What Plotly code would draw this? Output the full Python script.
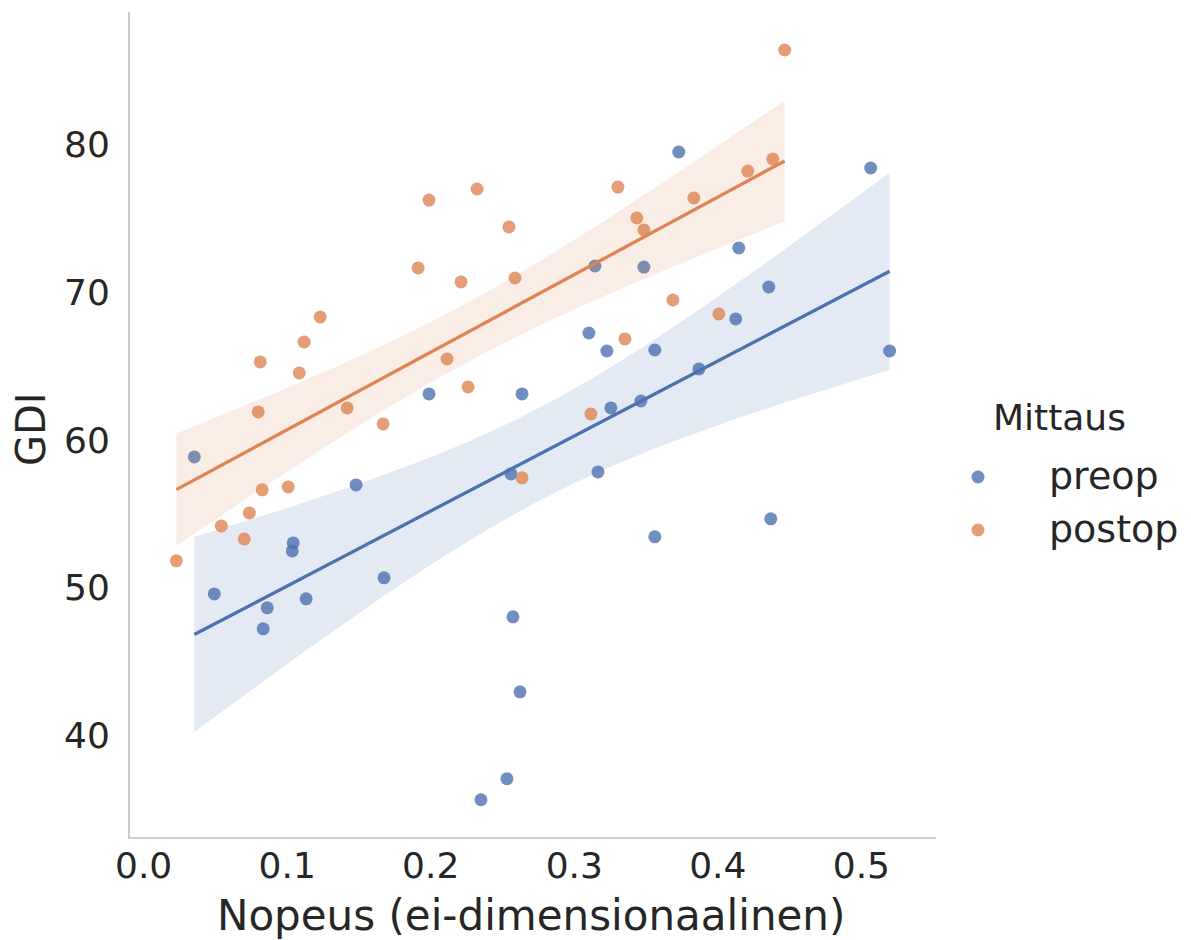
import numpy as np
import plotly.graph_objects as go

# ---- data ----
hue_levels = ["preop", "postop"]

preop_x = [0.0353, 0.0492, 0.0833, 0.0861, 0.1035, 0.1042, 0.1132, 0.1480, 0.1675,
           0.1988, 0.2350, 0.2531, 0.2559, 0.2573, 0.2622, 0.2636, 0.3102, 0.3144,
           0.3165, 0.3227, 0.3255, 0.3464, 0.3485, 0.3561, 0.3561, 0.3728, 0.3868,
           0.4125, 0.4146, 0.4355, 0.4369, 0.5065, 0.5197]
preop_y = [58.86, 49.59, 47.23, 48.65, 52.50, 53.04, 49.26, 56.96, 50.68,
           63.12, 35.67, 37.09, 57.71, 48.04, 42.97, 63.12, 67.24, 71.77,
           57.84, 66.02, 62.17, 62.64, 71.70, 66.09, 53.45, 79.48, 64.81,
           68.19, 72.99, 70.35, 54.67, 78.40, 66.02]

postop_x = [0.0228, 0.0541, 0.0701, 0.0736, 0.0798, 0.0812, 0.0826, 0.1007, 0.1084,
            0.1118, 0.1230, 0.1418, 0.1668, 0.1912, 0.1988, 0.2114, 0.2211, 0.2260,
            0.2323, 0.2545, 0.2587, 0.2636, 0.3116, 0.3304, 0.3353, 0.3436, 0.3485,
            0.3687, 0.3833, 0.4007, 0.4209, 0.4383, 0.4466]
postop_y = [51.83, 54.19, 53.31, 55.07, 61.90, 65.28, 56.63, 56.83, 64.54,
            66.63, 68.32, 62.17, 61.09, 71.64, 76.23, 65.48, 70.69, 63.59,
            76.98, 74.41, 70.96, 57.44, 61.76, 77.11, 66.84, 75.02, 74.21,
            69.47, 76.37, 68.53, 78.19, 79.01, 86.38]

x_ticks = [0.0, 0.1, 0.2, 0.3, 0.4, 0.5]
x_tick_labels = ["0.0", "0.1", "0.2", "0.3", "0.4", "0.5"]
y_ticks = [40, 50, 60, 70, 80]
y_tick_labels = ["40", "50", "60", "70", "80"]

x_title = "Nopeus (ei-dimensionaalinen)"
y_title = "GDI"
legend_title = "Mittaus"

series = {"preop": (preop_x, preop_y), "postop": (postop_x, postop_y)}

# ---- style ----
line_colors = {"preop": "rgb(76,114,176)", "postop": "rgb(221,132,82)"}
band_colors = {"preop": "rgba(76,114,176,0.15)", "postop": "rgba(221,132,82,0.15)"}
TEXT = "#262626"
FONT = "DejaVu Sans"
T975 = 2.04  # Student t quantile, 95% CI, ~31 dof

W, H = 1191, 940
L, R, T, B = 130, 255, 12, 103
pw, ph = W - L - R, H - T - B


def px_x(p):
    return (p - L) / pw


def px_y(p):
    return (H - B - p) / ph


fig = go.Figure()

for lvl in hue_levels:
    xs = np.array(series[lvl][0])
    ys = np.array(series[lvl][1])
    fig.add_trace(go.Scatter(
        x=xs, y=ys, mode="markers", name=lvl, showlegend=False,
        marker=dict(size=13, color=line_colors[lvl], opacity=0.8, line=dict(width=0)),
        hoverinfo="skip"))
    # linear fit and 95% confidence band for the mean
    n = len(xs)
    b1, b0 = np.polyfit(xs, ys, 1)
    resid = ys - (b0 + b1 * xs)
    s = np.sqrt(np.sum(resid ** 2) / (n - 2))
    grid = np.linspace(xs.min(), xs.max(), 100)
    fit = b0 + b1 * grid
    se = s * np.sqrt(1.0 / n + (grid - xs.mean()) ** 2 / np.sum((xs - xs.mean()) ** 2))
    lo, hi = fit - T975 * se, fit + T975 * se
    fig.add_trace(go.Scatter(
        x=np.concatenate([grid, grid[::-1]]), y=np.concatenate([hi, lo[::-1]]),
        fill="toself", fillcolor=band_colors[lvl], line=dict(width=0),
        mode="lines", showlegend=False, hoverinfo="skip"))
    fig.add_trace(go.Scatter(
        x=grid, y=fit, mode="lines", showlegend=False, hoverinfo="skip",
        line=dict(color=line_colors[lvl], width=3.3)))

# axis titles and a seaborn-style legend placed outside on the right
annotations = [
    dict(text=x_title, xref="paper", yref="paper", x=px_x(531), y=px_y(915),
         xanchor="center", yanchor="middle", showarrow=False, borderpad=0,
         font=dict(family=FONT, size=42, color=TEXT)),
    dict(text=y_title, xref="paper", yref="paper", x=px_x(31), y=px_y(429),
         xanchor="center", yanchor="middle", showarrow=False, textangle=-90,
         font=dict(family=FONT, size=40, color=TEXT)),
    dict(text=legend_title, xref="paper", yref="paper", x=px_x(991), y=px_y(417),
         xanchor="left", yanchor="middle", showarrow=False,
         font=dict(family=FONT, size=36, color=TEXT)),
]
shapes = []
for lvl, ycen in zip(hue_levels, [477, 530]):
    annotations.append(dict(text=lvl, xref="paper", yref="paper", x=px_x(1047), y=px_y(ycen - 1),
                            xanchor="left", yanchor="middle", showarrow=False,
                            font=dict(family=FONT, size=38, color=TEXT)))
    shapes.append(dict(type="circle", xref="paper", yref="paper",
                       xsizemode="pixel", ysizemode="pixel",
                       xanchor=px_x(978), yanchor=px_y(ycen),
                       x0=-6.5, x1=6.5, y0=-6.5, y1=6.5,
                       fillcolor=line_colors[lvl], opacity=0.8, line=dict(width=0)))

fig.update_layout(
    width=W, height=H,
    margin=dict(l=L, r=R, t=T, b=B, pad=0),
    paper_bgcolor="white", plot_bgcolor="white",
    font=dict(family=FONT, color=TEXT),
    showlegend=False,
    annotations=annotations, shapes=shapes,
    xaxis=dict(range=[-0.0095, 0.552], tickvals=x_ticks, ticktext=x_tick_labels,
               showgrid=False, zeroline=False, showline=True, linecolor="#cccccc",
               linewidth=2, ticks="", ticklabelstandoff=-4, automargin=False,
               tickfont=dict(family=FONT, size=36, color=TEXT)),
    yaxis=dict(range=[33.15, 88.95], tickvals=y_ticks, ticktext=y_tick_labels,
               showgrid=False, zeroline=False, showline=True, linecolor="#cccccc",
               linewidth=2, ticks="", ticklabelstandoff=11, automargin=False,
               tickfont=dict(family=FONT, size=36, color=TEXT)),
)

fig.write_html(
    "out.html",
    config={"displayModeBar": False},
    post_script="document.body.style.margin='0px';document.body.style.overflow='hidden';",
)
